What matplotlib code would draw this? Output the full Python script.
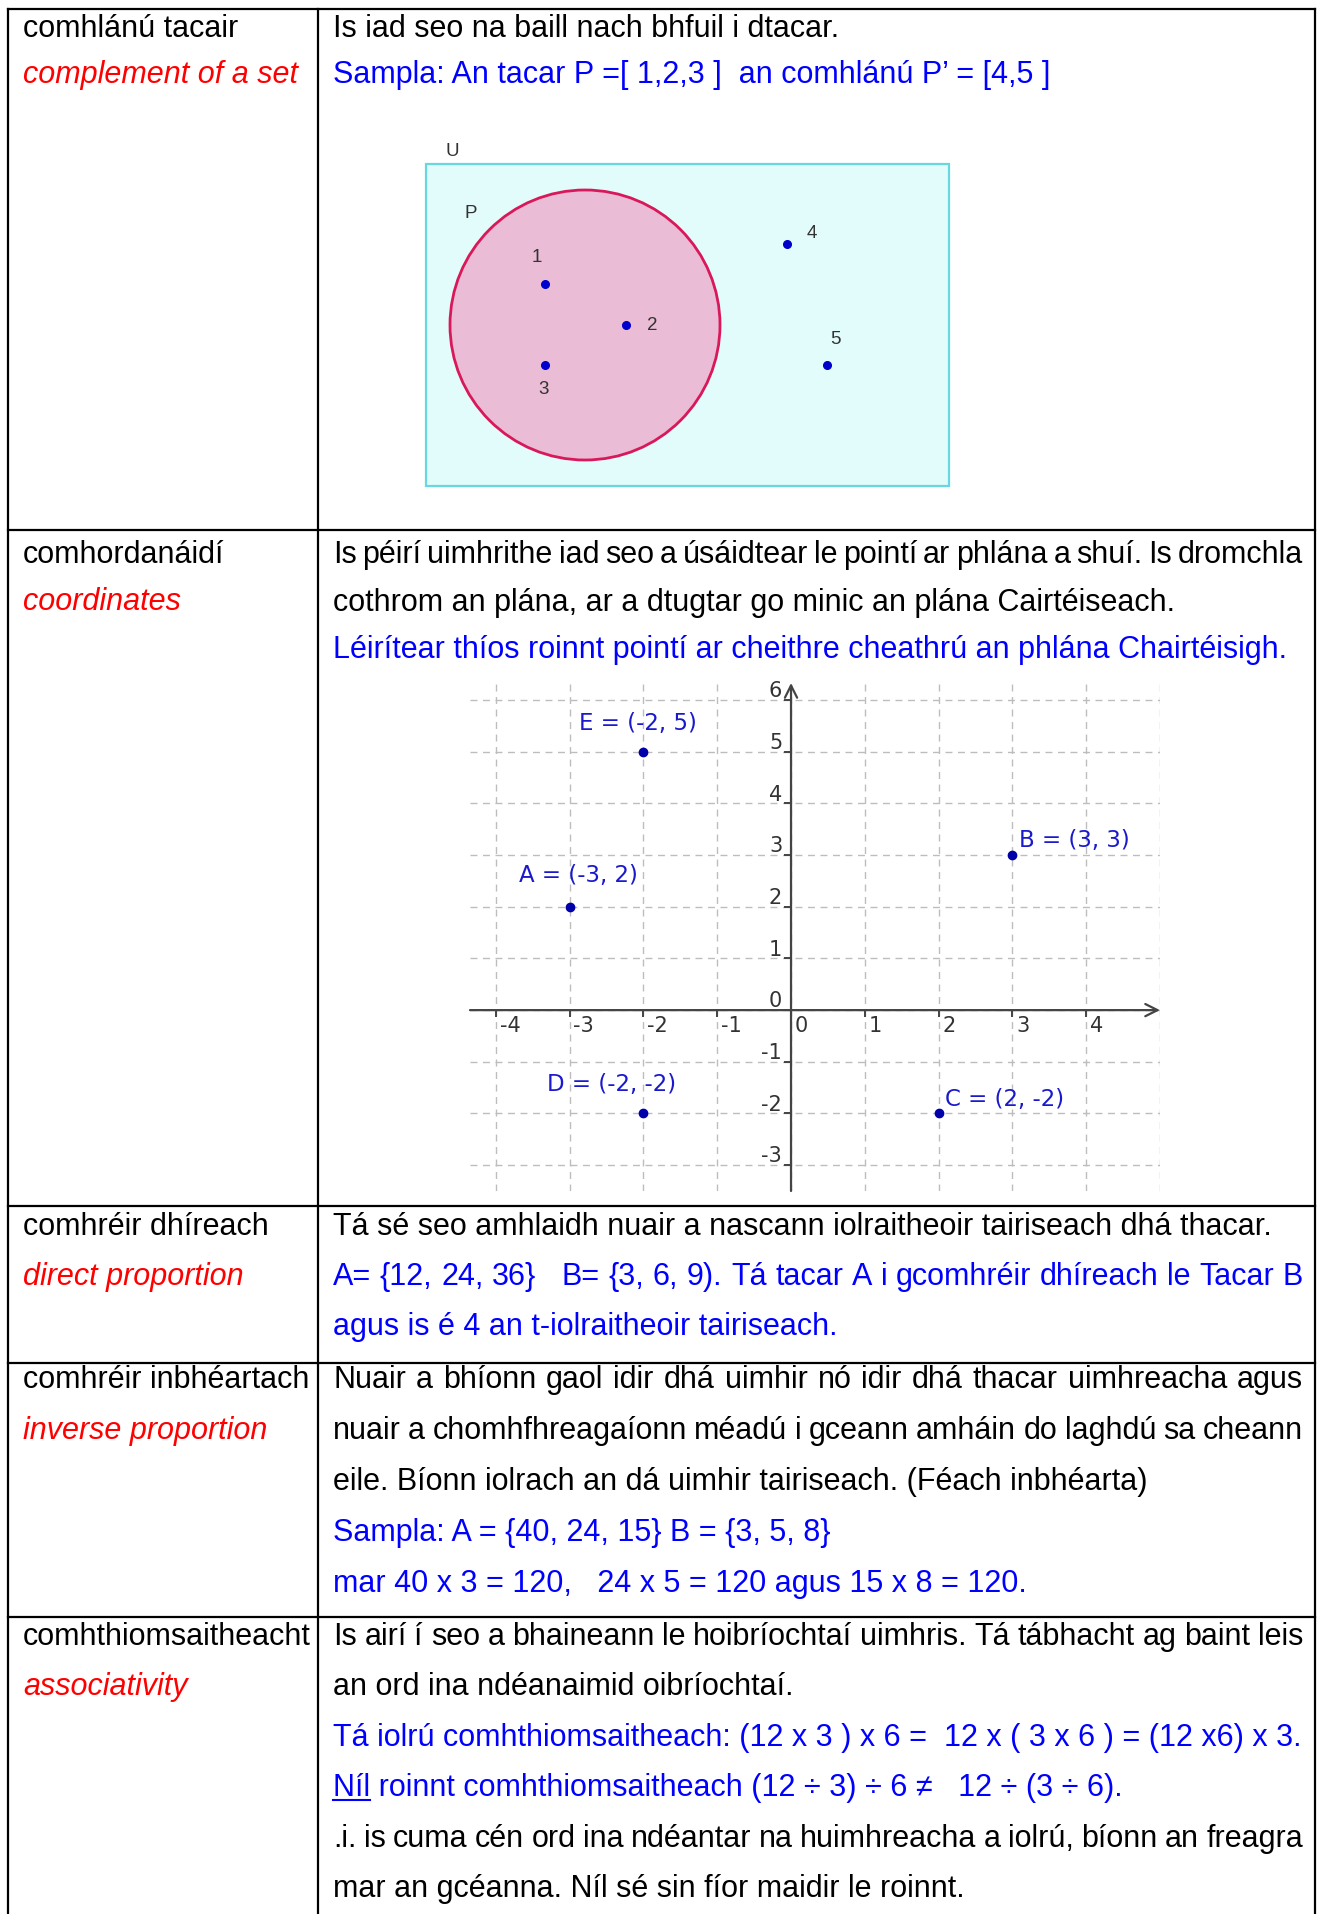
import matplotlib
matplotlib.use('Agg')
import matplotlib.pyplot as plt
from matplotlib.patches import Rectangle, Circle
from matplotlib.markers import TICKDOWN, TICKLEFT

FONT = ['Liberation Sans', 'DejaVu Sans']
plt.rcParams['font.family'] = FONT

# ---------------- data ----------------
terms_ga = ["comhlánú tacair", "comhordanáidí", "comhréir dhíreach",
            "comhréir inbhéartach", "comhthiomsaitheacht"]
terms_en = ["complement of a set", "coordinates", "direct proportion",
            "inverse proportion", "associativity"]

# (text, colour key, justified)
def_row1 = [("Is iad seo na baill nach bhfuil i dtacar.", "k", False),
            ("Sampla: An tacar P =[ 1,2,3 ]  an comhlánú P’ = [4,5 ]", "b", False)]
def_row2 = [("Is péirí uimhrithe iad seo a úsáidtear le pointí ar phlána a shuí. Is dromchla", "k", True),
            ("cothrom an plána, ar a dtugtar go minic an plána Cairtéiseach.", "k", False),
            ("Léirítear thíos roinnt pointí ar cheithre cheathrú an phlána Chairtéisigh.", "b", False)]
def_row3 = [("Tá sé seo amhlaidh nuair a nascann iolraitheoir tairiseach dhá thacar.", "k", False),
            ("A= {12, 24, 36}   B= {3, 6, 9). Tá tacar A i gcomhréir dhíreach le Tacar B", "b", True),
            ("agus is é 4 an t-iolraitheoir tairiseach.", "b", False)]
def_row4 = [("Nuair a bhíonn gaol idir dhá uimhir nó idir dhá thacar uimhreacha agus", "k", True),
            ("nuair a chomhfhreagaíonn méadú i gceann amháin do laghdú sa cheann", "k", True),
            ("eile. Bíonn iolrach an dá uimhir tairiseach. (Féach inbhéarta)", "k", False),
            ("Sampla: A = {40, 24, 15} B = {3, 5, 8}", "b", False),
            ("mar 40 x 3 = 120,   24 x 5 = 120 agus 15 x 8 = 120.", "b", False)]
def_row5 = [("Is airí í seo a bhaineann le hoibríochtaí uimhris. Tá tábhacht ag baint leis", "k", True),
            ("an ord ina ndéanaimid oibríochtaí.", "k", False),
            ("Tá iolrú comhthiomsaitheach: (12 x 3 ) x 6 =  12 x ( 3 x 6 ) = (12 x6) x 3.", "b", False),
            ("Níl roinnt comhthiomsaitheach (12 ÷ 3) ÷ 6 ≠   12 ÷ (3 ÷ 6).", "b", False),
            (".i. is cuma cén ord ina ndéantar na huimhreacha a iolrú, bíonn an freagra", "k", True),
            ("mar an gcéanna. Níl sé sin fíor maidir le roinnt.", "k", False)]
definitions = [def_row1, def_row2, def_row3, def_row4, def_row5]
underlined_word = "Níl"

# Venn diagram (units: tenths of the picture pixels, y downward)
universal_set = ["1", "2", "3", "4", "5"]
set_P = ["1", "2", "3"]
elem_x = [11.9, 20.0, 11.9, 36.1, 40.1]
elem_y = [12.0, 16.1, 20.1, 8.0, 20.1]
elem_lx = [11.1, 22.6, 11.8, 38.6, 40.9]
elem_ly = [9.3, 16.1, 22.5, 6.9, 17.5]
U_size = (52.3, 32.2)
P_center = (15.9, 16.1)
P_radius = 13.5

# coordinate plane
pt_names = ["E", "B", "A", "D", "C"]
pt_x = [-2, 3, -3, -2, 2]
pt_y = [5, 3, 2, -2, -2]
lab_dx = [-0.87, 0.09, -0.68, -1.30, 0.09]
lab_dy = [0.54, 0.28, 0.60, 0.57, 0.27]
x_ticks = [-4, -3, -2, -1, 0, 1, 2, 3, 4]
y_ticks = [-3, -2, -1, 0, 1, 2, 3, 4, 5, 6]

# ---------------- layout ----------------
W, H = 1320, 1914
fig = plt.figure(figsize=(W / 100, H / 100), dpi=100)
ax0 = fig.add_axes([0, 0, 1, 1])
ax0.set_xlim(0, W)
ax0.set_ylim(H, 0)
ax0.axis('off')

FS = 22
COL = {"k": "black", "b": "#0000FF"}
x_left, x_mid, x_right = 8, 318, 1315
row_tops = [9, 530, 1206, 1363, 1617]
first_base = [37, 563, 1235, 1388, 1645]
line_step = [46, 47.5, 50, 51, 50.4]
col1_x, col2_x, text_right = 23, 333, 1303
LW = 1.6

for y in row_tops:
    ax0.plot([x_left, x_right], [y, y], color='black', lw=LW, solid_capstyle='projecting')
for x in (x_left, x_mid, x_right):
    ax0.plot([x, x], [row_tops[0], H], color='black', lw=LW, solid_capstyle='projecting')

renderer = fig.canvas.get_renderer()


def put_line(x0, yb, text, color, justify):
    if not justify:
        ax0.text(x0, yb, text, color=color, fontsize=FS, va='baseline', ha='left')
        if text.startswith(underlined_word + " "):
            tmp = ax0.text(x0, yb, underlined_word, fontsize=FS, va='baseline', ha='left')
            w = tmp.get_window_extent(renderer).width
            tmp.remove()
            ax0.plot([x0, x0 + w], [yb + 4, yb + 4], color=color, lw=1.5)
        return
    words = text.split(' ')
    ts = [ax0.text(0, yb, w, color=color, fontsize=FS, va='baseline', ha='left') for w in words]
    widths = [t.get_window_extent(renderer).width if w else 0 for t, w in zip(ts, words)]
    gap = (text_right - x0 - sum(widths)) / (len(words) - 1)
    x = x0
    for t, w in zip(ts, widths):
        t.set_x(x)
        x += w + gap


for i in range(5):
    b0, st = first_base[i], line_step[i]
    ax0.text(col1_x, b0, terms_ga[i], fontsize=FS, color='black', va='baseline')
    ax0.text(col1_x, b0 + st, terms_en[i], fontsize=FS, color='#FF0000',
             fontstyle='italic', va='baseline')
    for j, (txt, ck, just) in enumerate(definitions[i]):
        put_line(col2_x, b0 + st * j, txt, COL[ck], just)

# ---------------- Venn diagram ----------------
vx0, vx1, vy0, vy1 = -2.0, 54.3, -3.4, 34.2
px0 = 426 + vx0 * 10
py0 = 164 + vy0 * 10
axv = fig.add_axes([px0 / W, 1 - (py0 + (vy1 - vy0) * 10) / H,
                    (vx1 - vx0) * 10 / W, (vy1 - vy0) * 10 / H])
axv.set_xlim(vx0, vx1)
axv.set_ylim(vy1, vy0)
axv.axis('off')
axv.add_patch(Rectangle((0, 0), U_size[0], U_size[1], facecolor='#E2FCFC',
                        edgecolor='#66D9E0', lw=1.6))
axv.add_patch(Circle(P_center, P_radius, facecolor='#EBBCD6', edgecolor='#D9185A', lw=2.0))
VFS = 13.5
axv.text(2.6, -1.3, "U", fontsize=VFS, color='#333333', ha='center', va='center')
axv.text(4.5, 5.0, "P", fontsize=VFS, color='#333333', ha='center', va='center')
axv.plot(elem_x, elem_y, 'o', color='#0000CC', ms=5.5, ls='none')
for lab, lx, ly in zip(universal_set, elem_lx, elem_ly):
    axv.text(lx, ly, lab, fontsize=VFS, color='#333333', ha='center', va='center')

# ---------------- coordinate plane ----------------
gx0, gx1, gy0, gy1 = 470, 1160, 683, 1191
axg = fig.add_axes([gx0 / W, 1 - gy1 / H, (gx1 - gx0) / W, (gy1 - gy0) / H])
xmin, xmax, ymin, ymax = -4.35, 5.0, -3.5, 6.33
axg.set_xlim(xmin, xmax)
axg.set_ylim(ymin, ymax)
axg.axis('off')
for x in x_ticks + [5]:
    axg.plot([x, x], [ymin, ymax], color='#BDBDBD', lw=1.0, ls=(0, (5, 4)), clip_on=True)
for y in y_ticks:
    axg.plot([xmin, xmax], [y, y], color='#BDBDBD', lw=1.0, ls=(0, (5, 4)), clip_on=True)

axg.annotate('', xy=(xmax, 0), xytext=(xmin, 0),
             arrowprops=dict(arrowstyle='->', color='#444444', lw=1.6,
                             shrinkA=0, shrinkB=0, mutation_scale=22))
axg.annotate('', xy=(0, ymax), xytext=(0, ymin),
             arrowprops=dict(arrowstyle='->', color='#444444', lw=1.6,
                             shrinkA=0, shrinkB=0, mutation_scale=22))
axg.plot(x_ticks, [0] * len(x_ticks), ls='none', marker=TICKDOWN, ms=5,
         mew=1.4, color='#444444')
axg.plot([0] * len(y_ticks), y_ticks, ls='none', marker=TICKLEFT, ms=5,
         mew=1.4, color='#444444')
GF = ['DejaVu Sans']
for x in x_ticks:
    axg.text(x + 0.05, -0.31, str(x), fontsize=15, color='#333333', ha='left',
             va='center', family=GF)
for y in y_ticks:
    axg.text(-0.12, y + 0.17, str(y), fontsize=15, color='#333333', ha='right',
             va='center', family=GF)

axg.plot(pt_x, pt_y, 'o', color='#0000AA', ms=6, ls='none', zorder=5)
for n, x, y, dx, dy in zip(pt_names, pt_x, pt_y, lab_dx, lab_dy):
    axg.text(x + dx, y + dy, f"{n} = ({x}, {y})", fontsize=16.5, color='#1A1ACC',
             ha='left', va='center', family=GF)

fig.savefig('out.png', dpi=100)
